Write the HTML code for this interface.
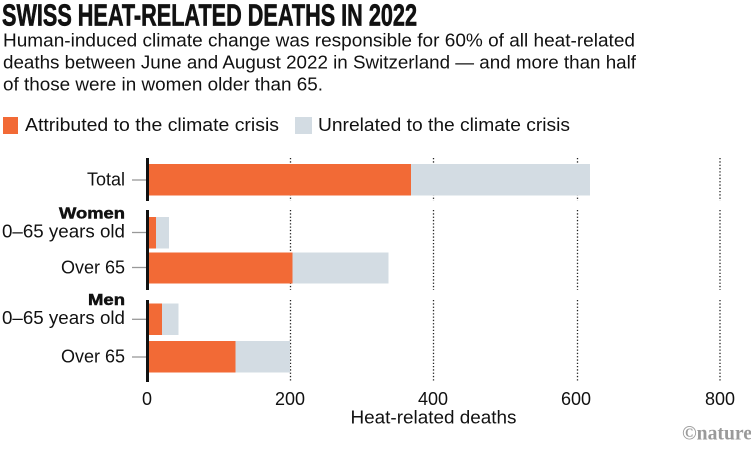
<!DOCTYPE html>
<html><head><meta charset="utf-8"><style>
html,body{margin:0;padding:0;background:#fff;}
svg{display:block;}
text{font-family:"Liberation Sans",sans-serif;fill:#111;}
</style></head><body>
<svg width="751" height="452" viewBox="0 0 751 452" xmlns="http://www.w3.org/2000/svg">
<rect width="751" height="452" fill="#fff"/>
<text x="2" y="25.5" font-size="31" font-weight="bold" stroke="#111" stroke-width="0.7" textLength="415" lengthAdjust="spacingAndGlyphs">SWISS HEAT-RELATED DEATHS IN 2022</text>
<text x="3" y="46.5" font-size="18" textLength="632" lengthAdjust="spacingAndGlyphs">Human-induced climate change was responsible for 60% of all heat-related</text>
<text x="3" y="68.5" font-size="18" textLength="633" lengthAdjust="spacingAndGlyphs">deaths between June and August 2022 in Switzerland — and more than half</text>
<text x="3" y="90.5" font-size="18" textLength="320" lengthAdjust="spacingAndGlyphs">of those were in women older than 65.</text>
<rect x="3" y="117" width="15" height="17" fill="#F26A36"/>
<text x="25" y="131" font-size="18" textLength="254" lengthAdjust="spacingAndGlyphs">Attributed to the climate crisis</text>
<rect x="295" y="117" width="17" height="17" fill="#D3DCE3"/>
<text x="318" y="131" font-size="18" textLength="252" lengthAdjust="spacingAndGlyphs">Unrelated to the climate crisis</text>
<g stroke="#222" stroke-width="1.3" stroke-dasharray="1.3 2">
<line x1="290.5" y1="158" x2="290.5" y2="201"/><line x1="290.5" y1="210" x2="290.5" y2="290"/><line x1="290.5" y1="300" x2="290.5" y2="382"/>
<line x1="433.5" y1="158" x2="433.5" y2="201"/><line x1="433.5" y1="210" x2="433.5" y2="290"/><line x1="433.5" y1="300" x2="433.5" y2="382"/>
<line x1="577.5" y1="158" x2="577.5" y2="201"/><line x1="577.5" y1="210" x2="577.5" y2="290"/><line x1="577.5" y1="300" x2="577.5" y2="382"/>
<line x1="720" y1="158" x2="720" y2="201"/><line x1="720" y1="210" x2="720" y2="290"/><line x1="720" y1="300" x2="720" y2="382"/>
</g>
<g>
<rect x="149" y="164" width="441" height="31.5" fill="#D3DCE3"/>
<rect x="149" y="164" width="262" height="31.5" fill="#F26A36"/>
<rect x="149" y="217" width="20" height="31.5" fill="#D3DCE3"/>
<rect x="149" y="217" width="7" height="31.5" fill="#F26A36"/>
<rect x="149" y="252.5" width="239.5" height="31" fill="#D3DCE3"/>
<rect x="149" y="252.5" width="143.5" height="31" fill="#F26A36"/>
<rect x="149" y="303.5" width="29.5" height="31.5" fill="#D3DCE3"/>
<rect x="149" y="303.5" width="13" height="31.5" fill="#F26A36"/>
<rect x="149" y="341" width="141" height="31.5" fill="#D3DCE3"/>
<rect x="149" y="341" width="86.5" height="31.5" fill="#F26A36"/>
</g>
<g fill="#111">
<rect x="146" y="158" width="3" height="43"/>
<rect x="146" y="210" width="3" height="80"/>
<rect x="146" y="300" width="3" height="82"/>
</g>
<g stroke="#999" stroke-width="1.3">
<line x1="132" y1="180" x2="146" y2="180"/>
<line x1="132" y1="232.5" x2="146" y2="232.5"/>
<line x1="132" y1="267.5" x2="146" y2="267.5"/>
<line x1="132" y1="319.3" x2="146" y2="319.3"/>
<line x1="132" y1="357" x2="146" y2="357"/>
</g>
<g font-size="18" text-anchor="end">
<text x="125" y="185.5">Total</text>
<text x="125" y="218.5" font-weight="bold" font-size="16" stroke="#111" stroke-width="0.5" textLength="66" lengthAdjust="spacingAndGlyphs">Women</text>
<text x="125" y="237.5" textLength="123" lengthAdjust="spacingAndGlyphs">0–65 years old</text>
<text x="125" y="273.3">Over 65</text>
<text x="125" y="305" font-weight="bold" font-size="16" stroke="#111" stroke-width="0.5" textLength="37" lengthAdjust="spacingAndGlyphs">Men</text>
<text x="125" y="324" textLength="123" lengthAdjust="spacingAndGlyphs">0–65 years old</text>
<text x="125" y="362.3">Over 65</text>
</g>
<g font-size="18" text-anchor="middle">
<text x="147" y="405">0</text>
<text x="290" y="405">200</text>
<text x="433" y="405">400</text>
<text x="576" y="405">600</text>
<text x="720" y="405">800</text>
<text x="433.5" y="423.5" textLength="166" lengthAdjust="spacingAndGlyphs">Heat-related deaths</text>
</g>
<text x="682" y="439.5" font-size="20" font-weight="bold" style="font-family:'Liberation Serif',serif;fill:#9a9a9a" textLength="70" lengthAdjust="spacingAndGlyphs">©nature</text>
</svg>
</body></html>
